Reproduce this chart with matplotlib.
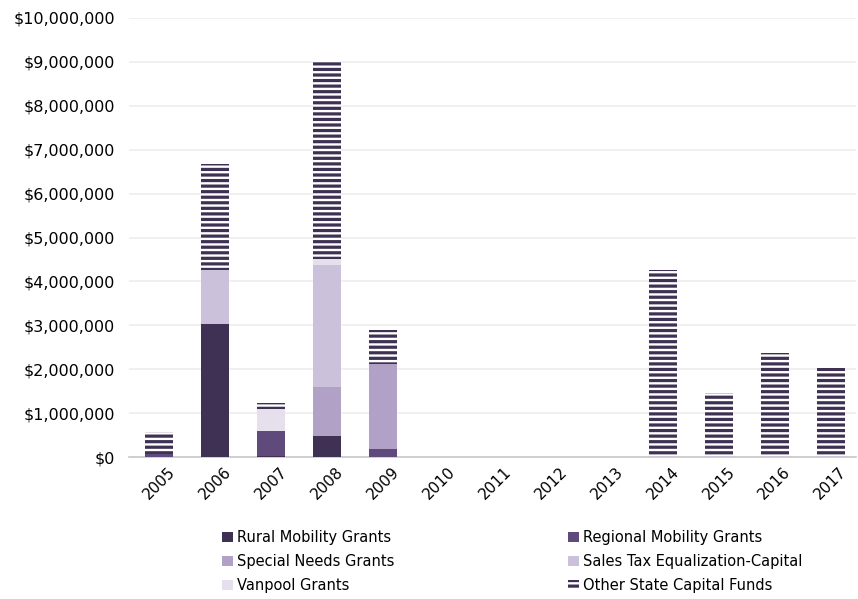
import numpy as np
import matplotlib
matplotlib.use('Agg')
import matplotlib.pyplot as plt
import matplotlib.transforms as mtransforms
from matplotlib.ticker import FuncFormatter

# ------------------- data ------------------- #
years = ['2005', '2006', '2007', '2008', '2009', '2010', '2011',
         '2012', '2013', '2014', '2015', '2016', '2017']
rural = [0, 3020000, 30000, 480000, 0, 0, 0, 0, 0, 0, 0, 0, 0]
regional = [80000, 0, 570000, 0, 180000, 0, 0, 0, 0, 0, 0, 0, 0]
special_needs = [0, 0, 0, 1110000, 1940000, 0, 0, 0, 0, 0, 0, 0, 0]
sales_tax = [0, 1230000, 0, 2780000, 0, 0, 0, 0, 0, 0, 0, 0, 0]
vanpool = [0, 0, 500000, 140000, 0, 0, 0, 0, 0, 0, 0, 0, 0]
other_state = [480000, 2420000, 130000, 4540000, 770000, 0, 0, 0, 0,
               4250000, 1450000, 2370000, 2020000]

series = [('Rural Mobility Grants', rural, '#3F3154'),
          ('Regional Mobility Grants', regional, '#604A7B'),
          ('Special Needs Grants', special_needs, '#B2A1C7'),
          ('Sales Tax Equalization-Capital', sales_tax, '#CCC1DA'),
          ('Vanpool Grants', vanpool, '#E5E0EC')]

plt.rcParams['font.family'] = ['DejaVu Sans']
plt.rcParams['hatch.linewidth'] = 2.3
plt.rcParams['hatch.color'] = '#3F3154'

fig = plt.figure(figsize=(8.58, 5.99), dpi=100)
ax = fig.add_axes([0.150, 0.237, 0.848, 0.733])

x = np.arange(len(years))
bottom = np.zeros(len(years))
handles = []
for name, vals, col in series:
    b = ax.bar(x, vals, width=0.5, bottom=bottom, color=col, label=name, zorder=3)
    handles.append(b)
    bottom += np.array(vals)

# striped series
b = ax.bar(x, other_state, width=0.5, bottom=bottom, color='white',
           hatch='---', edgecolor='#3F3154', linewidth=0, label='Other State Capital Funds', zorder=3)
handles.append(b)

ax.set_xlim(-0.55, 12.45)
ax.set_ylim(0, 10000000)
ax.set_yticks(np.arange(0, 10000001, 1000000))
ax.yaxis.set_major_formatter(FuncFormatter(lambda v, p: '${:,.0f}'.format(v)))
ax.set_xticks(x)
ax.set_xticklabels(years, rotation=45, ha='right', rotation_mode='anchor', fontsize=11)
ax.tick_params(axis='y', length=0, labelsize=11.5, colors='#000000')
ax.tick_params(axis='x', length=0, colors='#000000', pad=5)
ax.tick_params(axis='y', pad=10)
ax.grid(axis='y', color='#EDEDED', linewidth=1.2, zorder=0)
for s in ['top', 'right', 'left']:
    ax.spines[s].set_visible(False)
ax.spines['bottom'].set_color('#C8C8C8')
ax.spines['bottom'].set_linewidth(1.2)

# nudge year labels right like the original
offset = mtransforms.ScaledTranslation(8 / 100, 0, fig.dpi_scale_trans)
for lbl in ax.get_xticklabels():
    lbl.set_transform(lbl.get_transform() + offset)

# legend filled row-wise
order = [0, 2, 4, 1, 3, 5]
fig.legend([handles[i] for i in order], [handles[i].get_label() for i in order],
           ncol=2, loc='upper left', bbox_to_anchor=(0.243, 0.137),
           frameon=False, fontsize=10.5, handlelength=0.75, handleheight=0.75,
           handletextpad=0.3, columnspacing=11.9, labelspacing=0.62)

fig.savefig('out.png', dpi=100)
